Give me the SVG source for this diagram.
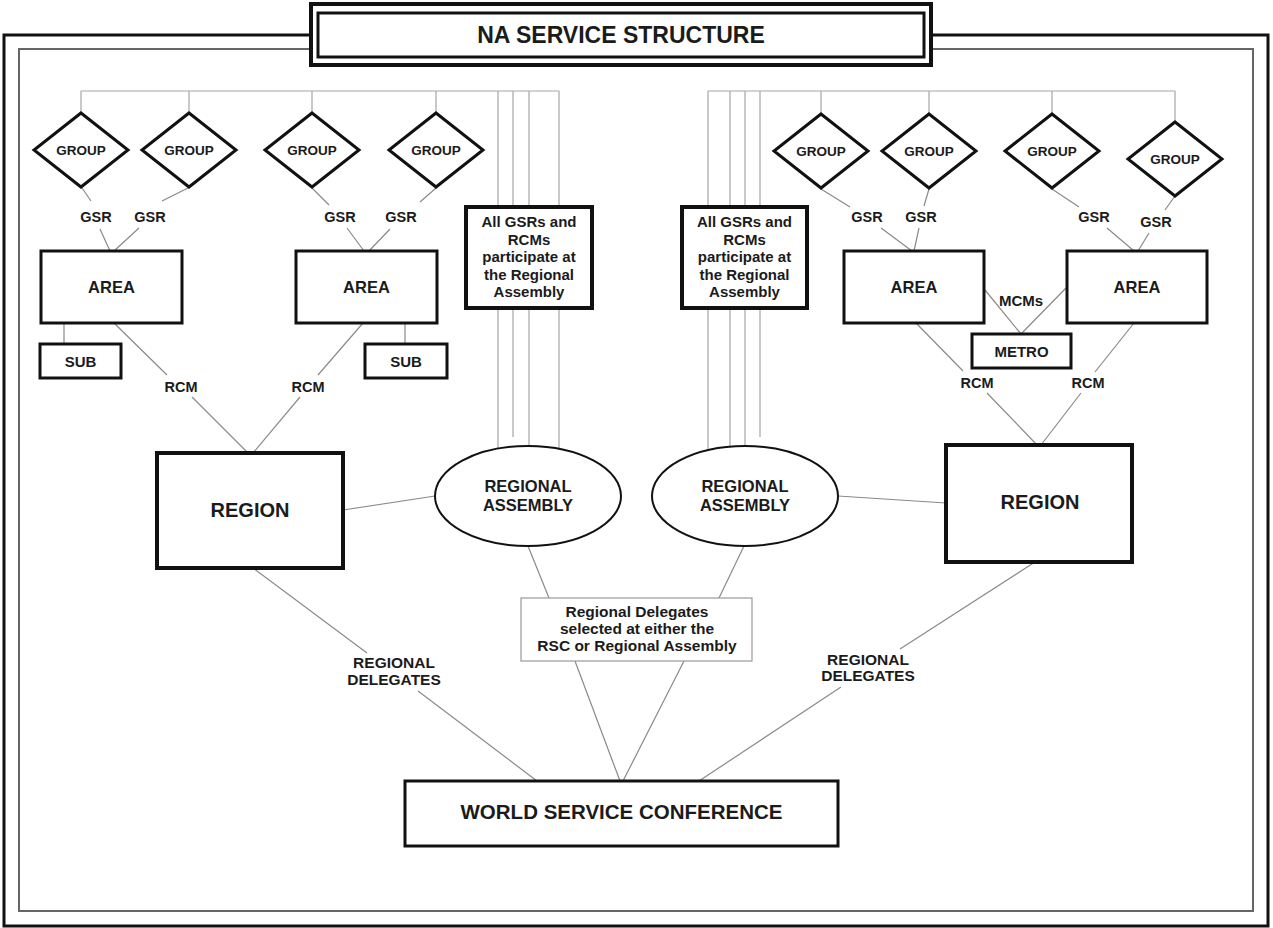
<svg xmlns="http://www.w3.org/2000/svg" width="1273" height="928" viewBox="0 0 1273 928">
  <style>
    .frame-outer{fill:none;stroke:#111;stroke-width:3}
    .frame-inner{fill:none;stroke:#666;stroke-width:2}
    .box{fill:#fff;stroke:#111;stroke-width:3}
    .heavy{stroke-width:4}
    .note{fill:#fff;stroke:#999;stroke-width:1.2}
    .conn{fill:none;stroke:#8a8a8a;stroke-width:1.2}
    .bus{fill:none;stroke:#a6a6a6;stroke-width:1.2}
    text{font-family:"Liberation Sans",Arial,Helvetica,sans-serif;font-weight:bold;fill:#1b1b1b;text-anchor:middle}
    .t13{font-size:13.5px}
    .t14{font-size:14.5px}
    .t15{font-size:15px}
    .t155{font-size:15.5px}
    .t16{font-size:16.5px}
    .t20{font-size:20px}
  </style>
  <rect width="1273" height="928" fill="#fff"/>

  <!-- page frame -->
  <g id="frame">
    <path class="frame-outer" d="M311,35 H4 V926 H1268 V35 H931"/>
    <path class="frame-inner" d="M311,49 H19 V911 H1253 V49 H931"/>
  </g>

  <!-- connectors -->
  <g id="connectors">
    <!-- left feed bus -->
    <path class="bus" d="M81,91 H559 M81,91 V113 M189,91 V113 M312,91 V113 M436,91 V113"/>
    <path class="bus" d="M498,91 V448 M513,91 V437 M529,91 V446 M559,91 V448"/>
    <!-- right feed bus -->
    <path class="bus" d="M708,91 H1175 M821,91 V114 M929,91 V114 M1052,91 V114 M1175,91 V122"/>
    <path class="bus" d="M708,91 V450 M730,91 V446 M745,91 V446 M760,91 V437"/>

    <!-- GSR links, left -->
    <path class="conn" d="M82,188 L91,201 M100,229 L110,251"/>
    <path class="conn" d="M188,188 L162,201 M139,228 L114,251"/>
    <path class="conn" d="M312,188 L329,205 M347,228 L364,251"/>
    <path class="conn" d="M436,188 L420,202 M390,229 L369,251"/>
    <!-- GSR links, right -->
    <path class="conn" d="M821,189 L850,207 M881,228 L912,251"/>
    <path class="conn" d="M929,189 L924,206 M919,228 L914,251"/>
    <path class="conn" d="M1052,189 L1079,207 M1107,228 L1134,251"/>
    <path class="conn" d="M1175,196 L1165,210 M1149,233 L1138,251"/>

    <!-- sub-committees -->
    <path class="conn" d="M64,323 V344 M405,323 V344"/>
    <!-- metro -->
    <path class="conn" d="M985,290 L1021,334 M1066,288 L1021,334"/>

    <!-- RCM links -->
    <path class="conn" d="M114,323 L167,375 M192,397 L248,453"/>
    <path class="conn" d="M363,323 L318,375 M300,397 L253,453"/>
    <path class="conn" d="M916,323 L963,371 M987,393 L1037,445"/>
    <path class="conn" d="M1134,323 L1095,372 M1081,393 L1041,445"/>

    <!-- region to assembly -->
    <path class="conn" d="M343,510 L435,496"/>
    <path class="conn" d="M838,496 L946,503"/>

    <!-- assembly to delegate note -->
    <path class="conn" d="M528,546 L549,598"/>
    <path class="conn" d="M744,546 L719,598"/>

    <!-- delegates to conference -->
    <path class="conn" d="M575,661 L620,781 M684,661 L623,781"/>
    <path class="conn" d="M253,568 L367,653 M418,691 L537,781"/>
    <path class="conn" d="M1035,562 L900,649 M841,687 L699,781"/>
  </g>

  <!-- title -->
  <g id="title">
    <rect x="311" y="4" width="620" height="61" fill="#fff" stroke="#111" stroke-width="4"/>
    <rect x="318" y="13" width="606" height="44" fill="none" stroke="#111" stroke-width="3"/>
    <text x="621" y="43" style="font-size:23px">NA SERVICE STRUCTURE</text>
  </g>

  <!-- groups -->
  <g id="group-l1"><polygon class="box" points="81,113 128,150 81,187 34,150"/><text class="t13" x="81" y="155">GROUP</text></g>
  <g id="group-l2"><polygon class="box" points="189,113 236,150 189,187 142,150"/><text class="t13" x="189" y="155">GROUP</text></g>
  <g id="group-l3"><polygon class="box" points="312,113 359,150 312,187 265,150"/><text class="t13" x="312" y="155">GROUP</text></g>
  <g id="group-l4"><polygon class="box" points="436,113 483,150 436,187 389,150"/><text class="t13" x="436" y="155">GROUP</text></g>
  <g id="group-r1"><polygon class="box" points="821,114 868,151 821,188 774,151"/><text class="t13" x="821" y="156">GROUP</text></g>
  <g id="group-r2"><polygon class="box" points="929,114 976,151 929,188 882,151"/><text class="t13" x="929" y="156">GROUP</text></g>
  <g id="group-r3"><polygon class="box" points="1052,114 1099,151 1052,188 1005,151"/><text class="t13" x="1052" y="156">GROUP</text></g>
  <g id="group-r4"><polygon class="box" points="1175,122 1222,159 1175,196 1128,159"/><text class="t13" x="1175" y="164">GROUP</text></g>

  <!-- link labels -->
  <g id="labels">
    <text class="t14" x="96" y="222">GSR</text>
    <text class="t14" x="150" y="222">GSR</text>
    <text class="t14" x="340" y="222">GSR</text>
    <text class="t14" x="401" y="222">GSR</text>
    <text class="t14" x="867" y="222">GSR</text>
    <text class="t14" x="921" y="222">GSR</text>
    <text class="t14" x="1094" y="222">GSR</text>
    <text class="t14" x="1156" y="227">GSR</text>
    <text class="t14" x="181" y="392">RCM</text>
    <text class="t14" x="308" y="392">RCM</text>
    <text class="t14" x="977" y="388">RCM</text>
    <text class="t14" x="1088" y="388">RCM</text>
    <text class="t15" x="1021" y="306">MCMs</text>
    <text class="t155" x="394" y="668">REGIONAL</text>
    <text class="t155" x="394" y="685">DELEGATES</text>
    <text class="t155" x="868" y="665">REGIONAL</text>
    <text class="t155" x="868" y="681">DELEGATES</text>
  </g>

  <!-- areas -->
  <g id="area-l1"><rect class="box" x="41" y="251" width="141" height="72"/><text class="t16" x="111.5" y="293">AREA</text></g>
  <g id="area-l2"><rect class="box" x="296" y="251" width="141" height="72"/><text class="t16" x="366.5" y="293">AREA</text></g>
  <g id="area-r1"><rect class="box" x="844" y="251" width="140" height="72"/><text class="t16" x="914" y="293">AREA</text></g>
  <g id="area-r2"><rect class="box" x="1067" y="251" width="140" height="72"/><text class="t16" x="1137" y="293">AREA</text></g>

  <!-- sub-committees and metro -->
  <g id="sub-l"><rect class="box" x="40" y="344" width="81" height="34"/><text class="t15" x="80.5" y="366.5">SUB</text></g>
  <g id="sub-r"><rect class="box" x="365" y="344" width="82" height="34"/><text class="t15" x="406" y="366.5">SUB</text></g>
  <g id="metro"><rect class="box" x="972" y="334" width="99" height="34"/><text class="t15" x="1021.5" y="356.5">METRO</text></g>

  <!-- participation notes -->
  <g id="note-l">
    <rect class="box heavy" x="466" y="207" width="126" height="101"/>
    <text class="t15" x="529" y="227">All GSRs and</text>
    <text class="t15" x="529" y="244.5">RCMs</text>
    <text class="t15" x="529" y="262">participate at</text>
    <text class="t15" x="529" y="279.5">the Regional</text>
    <text class="t15" x="529" y="297">Assembly</text>
  </g>
  <g id="note-r">
    <rect class="box heavy" x="682" y="207" width="125" height="101"/>
    <text class="t15" x="744.5" y="227">All GSRs and</text>
    <text class="t15" x="744.5" y="244.5">RCMs</text>
    <text class="t15" x="744.5" y="262">participate at</text>
    <text class="t15" x="744.5" y="279.5">the Regional</text>
    <text class="t15" x="744.5" y="297">Assembly</text>
  </g>

  <!-- regions -->
  <g id="region-l"><rect class="box heavy" x="157" y="453" width="186" height="115"/><text class="t20" x="250" y="517">REGION</text></g>
  <g id="region-r"><rect class="box heavy" x="946" y="445" width="186" height="117"/><text class="t20" x="1040" y="509">REGION</text></g>

  <!-- regional assemblies -->
  <g id="assembly-l">
    <ellipse cx="528" cy="496" rx="93" ry="50" fill="#fff" stroke="#111" stroke-width="2"/>
    <text class="t16" x="528" y="492">REGIONAL</text>
    <text class="t16" x="528" y="511">ASSEMBLY</text>
  </g>
  <g id="assembly-r">
    <ellipse cx="745" cy="496" rx="93" ry="50" fill="#fff" stroke="#111" stroke-width="2"/>
    <text class="t16" x="745" y="492">REGIONAL</text>
    <text class="t16" x="745" y="511">ASSEMBLY</text>
  </g>

  <!-- delegate selection note -->
  <g id="delegates-note">
    <rect class="note" x="521" y="598" width="231" height="63"/>
    <text class="t155" x="637" y="617">Regional Delegates</text>
    <text class="t155" x="637" y="634">selected at either the</text>
    <text class="t155" x="637" y="651">RSC or Regional Assembly</text>
  </g>

  <!-- conference -->
  <g id="wsc">
    <rect class="box" x="405" y="781" width="433" height="65" stroke-width="3.5"/>
    <text x="621.5" y="819" style="font-size:20.5px">WORLD SERVICE CONFERENCE</text>
  </g>
</svg>
